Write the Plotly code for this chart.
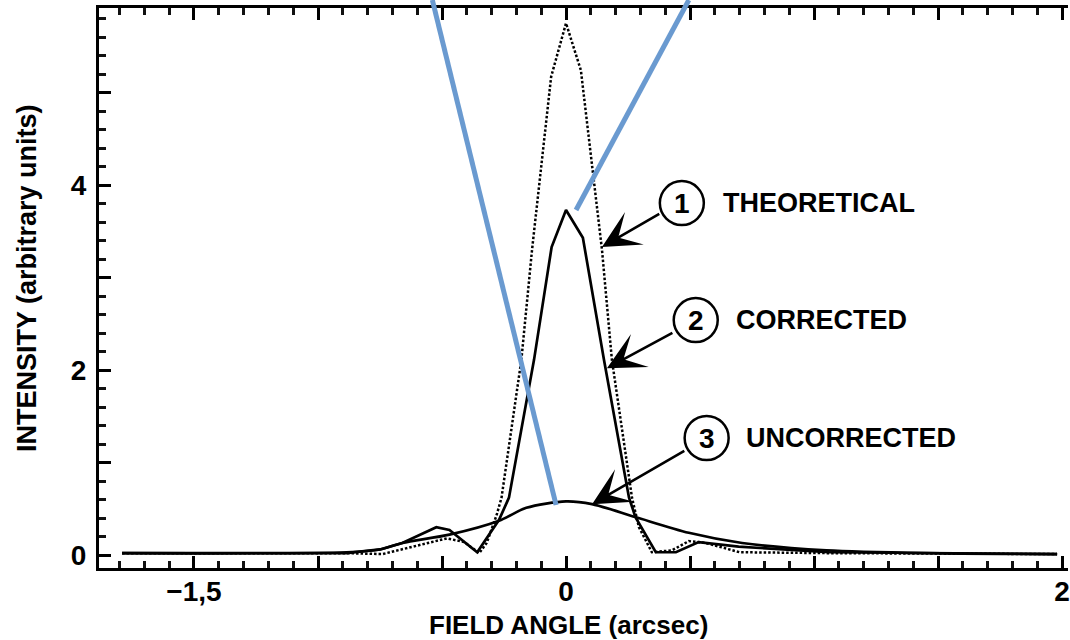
import plotly.graph_objects as go

# ---- data (field angle in arcsec, intensity in arbitrary units) ----
theo_x = [-1.79, -0.885, -0.74, -0.58, -0.48, -0.41, -0.35, -0.32, -0.28, -0.26, -0.18, -0.137,
          -0.06, 0.0, 0.06, 0.145, 0.185, 0.266, 0.294, 0.346, 0.427, 0.495, 0.563, 0.70, 1.06, 1.98]
theo_y = [0.02, 0.02, 0.01, 0.11, 0.18, 0.14, 0.02, 0.13, 0.43, 0.62, 2.11, 3.30,
          5.17, 5.75, 5.24, 3.30, 2.11, 0.62, 0.30, 0.03, 0.05, 0.15, 0.13, 0.03, 0.02, 0.01]

corr_x = [-1.79, -0.885, -0.75, -0.66, -0.523, -0.47, -0.358, -0.27, -0.23, -0.129, -0.058, 0.0,
          0.068, 0.153, 0.254, 0.28, 0.362, 0.443, 0.535, 0.696, 1.06, 1.98]
corr_y = [0.02, 0.02, 0.06, 0.13, 0.30, 0.27, 0.03, 0.38, 0.62, 2.11, 3.33, 3.73,
          3.43, 2.11, 0.62, 0.41, 0.03, 0.03, 0.14, 0.09, 0.03, 0.01]

unc_x = [-1.79, -0.885, -0.75, -0.66, -0.47, -0.27, -0.16, 0.0, 0.105, 0.28, 0.495, 0.71, 1.05, 1.45, 1.98]
unc_y = [0.02, 0.03, 0.06, 0.13, 0.22, 0.37, 0.51, 0.58, 0.55, 0.41, 0.24, 0.13, 0.05, 0.02, 0.01]

# tick labels: only some major ticks are labelled in the original
x_label_alias = {"\u22121.5": "\u22121,5", "\u22121": "", "\u22120.5": "", "0.5": "", "1": "", "1.5": ""}
y_label_alias = {"1": "", "3": "", "5": ""}

labels = ["THEORETICAL", "CORRECTED", "UNCORRECTED"]
numbers = ["1", "2", "3"]
circle_x = [0.467, 0.523, 0.567]
circle_y = [3.805, 2.54, 1.265]
label_x = [0.624, 0.676, 0.716]
arrow_tail_x = [0.382, 0.435, 0.483]
arrow_tail_y = [3.697, 2.41, 1.135]
arrow_tip_x = [0.145, 0.165, 0.105]
arrow_tip_y = [3.33, 2.02, 0.55]

X_RANGE = [-1.883, 2.024]
Y_RANGE = [-0.1405, 5.914]
FONT = "Liberation Sans"

fig = go.Figure()
fig.add_trace(go.Scatter(x=theo_x, y=theo_y, mode="lines", name="Theoretical",
                         line=dict(color="black", width=2.5, dash="2.5px,2px")))
fig.add_trace(go.Scatter(x=corr_x, y=corr_y, mode="lines", name="Corrected",
                         line=dict(color="black", width=2.7)))
fig.add_trace(go.Scatter(x=unc_x, y=unc_y, mode="lines", name="Uncorrected",
                         line=dict(color="black", width=2.7, shape="spline", smoothing=0.8)))

shapes = []
annotations = []
for i in range(3):
    shapes.append(dict(type="circle", xref="x", yref="y", xsizemode="pixel", ysizemode="pixel",
                       xanchor=circle_x[i], yanchor=circle_y[i], x0=-22, x1=22, y0=-22, y1=22,
                       line=dict(color="black", width=2.5), fillcolor="white", layer="above"))
    annotations.append(dict(x=circle_x[i], y=circle_y[i], xref="x", yref="y", text=numbers[i],
                            showarrow=False, font=dict(family=FONT, size=28, color="black", weight="bold")))
    annotations.append(dict(x=label_x[i], y=circle_y[i], xref="x", yref="y", text=labels[i],
                            xanchor="left", yanchor="middle", showarrow=False,
                            font=dict(family=FONT, size=27, color="black", weight="bold")))
    annotations.append(dict(x=arrow_tip_x[i], y=arrow_tip_y[i], ax=arrow_tail_x[i], ay=arrow_tail_y[i],
                            xref="x", yref="y", axref="x", ayref="y", text="", showarrow=True,
                            arrowhead=3, arrowsize=2.4, arrowwidth=2.6, arrowcolor="black", standoff=0))

# overlay blue strokes (paper coordinates)
shapes.append(dict(type="line", xref="paper", yref="paper", x0=0.344, y0=1.0143, x1=0.4717, y1=0.1125,
                   line=dict(color="#6A9AD0", width=5), layer="above"))
shapes.append(dict(type="line", xref="paper", yref="paper", x0=0.6087, y0=1.0143, x1=0.4923, y1=0.6393,
                   line=dict(color="#6A9AD0", width=5), layer="above"))

annotations.append(dict(x=0.485, y=-0.102, xref="paper", yref="paper", text="FIELD ANGLE (arcsec)",
                        showarrow=False, xanchor="center", yanchor="middle",
                        font=dict(family=FONT, size=26, color="black", weight="bold")))
annotations.append(dict(x=-0.0742, y=0.518, xref="paper", yref="paper", text="INTENSITY (arbitrary units)",
                        showarrow=False, xanchor="center", yanchor="middle", textangle=-90,
                        font=dict(family=FONT, size=27, color="black", weight="bold")))

fig.update_layout(
    width=1070, height=640,
    margin=dict(l=99, r=0, t=8, b=72),
    paper_bgcolor="white", plot_bgcolor="white",
    showlegend=False,
    shapes=shapes, annotations=annotations,
    xaxis=dict(range=X_RANGE, showgrid=False, zeroline=False,
               showline=True, linecolor="black", linewidth=3, mirror="ticks",
               tickmode="linear", tick0=0, dtick=0.5, labelalias=x_label_alias,
               ticks="inside", ticklen=12, tickwidth=2.5, tickcolor="black",
               ticklabelstandoff=-4, ticklabeloverflow="allow",
               tickfont=dict(family=FONT, size=28, color="black", weight="bold"),
               minor=dict(dtick=0.1, ticks="inside", ticklen=7, tickwidth=3, tickcolor="#111111")),
    yaxis=dict(range=Y_RANGE, showgrid=False, zeroline=False,
               showline=True, linecolor="black", linewidth=3,
               tickmode="linear", tick0=0, dtick=1, labelalias=y_label_alias,
               ticks="inside", ticklen=12, tickwidth=2.5, tickcolor="black",
               ticklabelstandoff=4,
               tickfont=dict(family=FONT, size=28, color="black", weight="bold"),
               minor=dict(dtick=0.2, ticks="inside", ticklen=7, tickwidth=3, tickcolor="#111111")),
)

fig.write_html("out.html")
